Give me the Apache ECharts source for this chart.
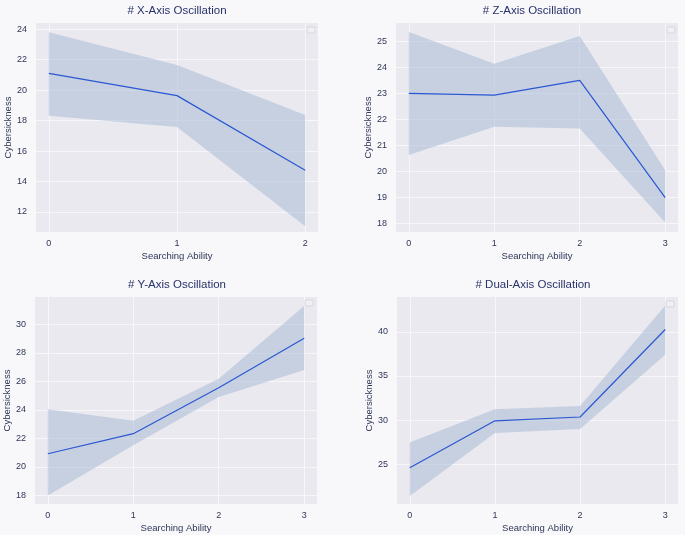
<!DOCTYPE html>
<html>
<head>
<meta charset="utf-8">
<script src="https://cdn.jsdelivr.net/npm/echarts@6/dist/echarts.min.js"></script>
<style>
html,body{margin:0;padding:0;background:#f8f8fa;}
#c{width:685px;height:535px;}
</style>
</head>
<body>
<div id="c"></div>
<script>
// Panel titles
const titles = ['# X-Axis Oscillation', '# Z-Axis Oscillation', '# Y-Axis Oscillation', '# Dual-Axis Oscillation'];

// Categories (Searching Ability)
const xCats = [0, 1, 2];
const zCats = [0, 1, 2, 3];
const yCats = [0, 1, 2, 3];
const dualCats = [0, 1, 2, 3];

// Mean values
const xMean = [21.1, 19.64, 14.73];
const zMean = [23.0, 22.93, 23.5, 19.0];
const yMean = [20.92, 22.33, 25.55, 29.02];
const dualMean = [24.6, 29.92, 30.35, 40.27];

// Confidence band upper
const xUpper = [23.8, 21.65, 18.37];
const zUpper = [25.35, 24.14, 25.2, 20.05];
const yUpper = [24.04, 23.24, 26.18, 31.28];
const dualUpper = [27.47, 31.24, 31.6, 43.0];

// Confidence band lower
const xLower = [18.32, 17.58, 11.06];
const zLower = [20.63, 21.72, 21.65, 18.04];
const yLower = [18.0, 21.52, 24.9, 26.79];
const dualLower = [21.4, 28.53, 29.0, 37.4];

// Y tick labels
const xTicks = [12, 14, 16, 18, 20, 22, 24];
const zTicks = [18, 19, 20, 21, 22, 23, 24, 25];
const yTicks = [18, 20, 22, 24, 26, 28, 30];
const dualTicks = [25, 30, 35, 40];

const panels = [
  {cats: xCats, mean: xMean, up: xUpper, lo: xLower, ticks: xTicks, ymin: 10.68, ymax: 24.41,
   grid: {left: 36, right: 367, top: 23, bottom: 303}, legend: {right: 370, top: 27}, title: {left: 177, top: 5}},
  {cats: zCats, mean: zMean, up: zUpper, lo: zLower, ticks: zTicks, ymin: 17.68, ymax: 25.70,
   grid: {left: 396, right: 7, top: 23, bottom: 303}, legend: {right: 10, top: 27}, title: {left: 532, top: 5}},
  {cats: yCats, mean: yMean, up: yUpper, lo: yLower, ticks: yTicks, ymin: 17.4, ymax: 31.91,
   grid: {left: 35, right: 368, top: 297, bottom: 31}, legend: {right: 372, top: 300}, title: {left: 177, top: 279}},
  {cats: dualCats, mean: dualMean, up: dualUpper, lo: dualLower, ticks: dualTicks, ymin: 20.48, ymax: 43.96,
   grid: {left: 397, right: 7, top: 297, bottom: 31}, legend: {right: 11, top: 301}, title: {left: 533, top: 279}}
];

const FONT = 'Liberation Sans';
const textCol = '#2f3657';
const option = {
  backgroundColor: '#f8f8fa',
  animation: false,
  title: [], grid: [], xAxis: [], yAxis: [], series: [], legend: []
};

panels.forEach((p, i) => {
  option.title.push({
    text: titles[i], left: p.title.left, top: p.title.top, textAlign: 'center', padding: 0,
    textStyle: {fontFamily: FONT, fontSize: 11.5, fontWeight: 'normal', color: '#28326a'}
  });
  option.grid.push(Object.assign({show: true, backgroundColor: '#e9e9ef', borderWidth: 0, containLabel: false}, p.grid));
  const n = p.cats.length - 1;
  option.xAxis.push({
    type: 'value', gridIndex: i, min: -0.05 * n, max: n + 0.05 * n,
    name: 'Searching Ability', nameLocation: 'middle', nameGap: 19,
    nameTextStyle: {fontFamily: FONT, fontSize: 9.5, color: textCol},
    axisLine: {show: false}, axisTick: {show: false, customValues: p.cats},
    axisLabel: {customValues: p.cats, fontFamily: FONT, fontSize: 9, color: textCol, margin: 7},
    splitLine: {show: true, lineStyle: {color: 'rgba(255,255,255,0.65)', width: 1}}
  });
  option.yAxis.push({
    type: 'value', gridIndex: i, min: p.ymin, max: p.ymax,
    name: 'Cybersickness', nameLocation: 'middle', nameGap: 18,
    nameTextStyle: {fontFamily: FONT, fontSize: 9.5, color: textCol},
    axisLine: {show: false}, axisTick: {show: false, customValues: p.ticks},
    axisLabel: {customValues: p.ticks, fontFamily: FONT, fontSize: 9, color: textCol, margin: 9},
    splitLine: {show: true, lineStyle: {color: 'rgba(255,255,255,0.65)', width: 1}}
  });
  option.series.push({
    type: 'custom', xAxisIndex: i, yAxisIndex: i, silent: true, z: 2,
    data: [0],
    renderItem: function (params, api) {
      const pts = [];
      p.cats.forEach((c, k) => pts.push(api.coord([c, p.up[k]])));
      for (let k = p.cats.length - 1; k >= 0; k--) pts.push(api.coord([p.cats[k], p.lo[k]]));
      return {type: 'polygon', shape: {points: pts}, style: {fill: 'rgba(172,190,216,0.58)', stroke: 'none'}};
    }
  });
  option.series.push({
    type: 'line', xAxisIndex: i, yAxisIndex: i, z: 3,
    data: p.cats.map((c, k) => [c, p.mean[k]]),
    symbol: 'none', lineStyle: {color: '#2b57d2', width: 1.2}
  });
  option.legend.push(Object.assign({
    show: true, data: [], padding: [3, 4, 3, 4], backgroundColor: 'rgba(240,240,244,0.9)',
    borderColor: '#d6d6de', borderWidth: 1, borderRadius: 1
  }, p.legend));
});

const chart = echarts.init(document.getElementById('c'));
chart.setOption(option);
</script>
</body>
</html>
